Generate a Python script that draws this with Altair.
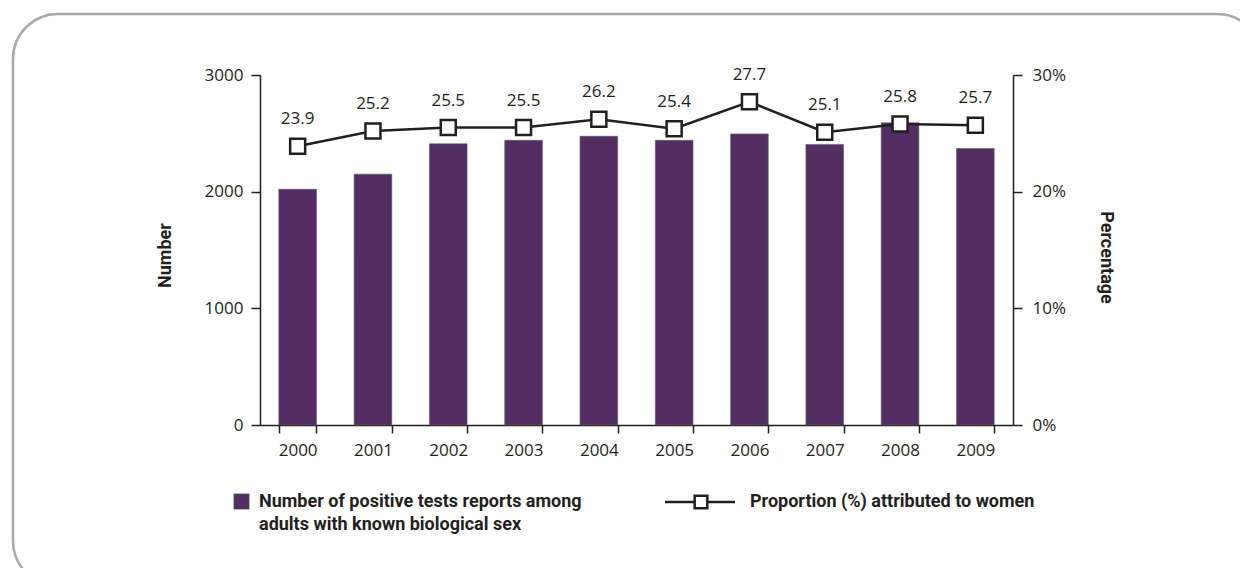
import altair as alt
import pandas as pd

years = ["2000", "2001", "2002", "2003", "2004", "2005", "2006", "2007", "2008", "2009"]
counts = [2020, 2150, 2410, 2440, 2475, 2440, 2495, 2405, 2590, 2370]
pct = [23.9, 25.2, 25.5, 25.5, 26.2, 25.4, 27.7, 25.1, 25.8, 25.7]
left_ticks = [0, 1000, 2000, 3000]
right_ticks = [0, 10, 20, 30]
legend_bar = ["Number of positive tests reports among", "adults with known biological sex"]
legend_line = "Proportion (%) attributed to women"

df = pd.DataFrame({"year": years, "count": counts, "pct": pct})
df["label"] = [f"{v:.1f}" for v in pct]

W, H = 753, 350
INK = "#231f20"
BAR = "#532e63"
FONT = "Open Sans"
BFONT = "Roboto"

xenc = alt.X("year:N", sort=years, title=None,
             scale=alt.Scale(paddingInner=0.5, paddingOuter=0.25),
             axis=alt.Axis(labelAngle=0, tickBand="extent", tickSize=8, labelPadding=9,
                           domainColor=INK, tickColor=INK, domainWidth=1.5, tickWidth=1.5,
                           labelFont=FONT, labelFontSize=17, labelColor=INK))

base = alt.Chart(df)

bars = base.mark_bar(color=BAR, stroke="#5a5a5a", strokeWidth=0.6).encode(
    x=xenc,
    y=alt.Y("count:Q", scale=alt.Scale(domain=[0, 3000]),
            axis=alt.Axis(orient="left", values=left_ticks, format="d", title="Number",
                          tickSize=9, labelPadding=8, domainColor=INK, tickColor=INK,
                          domainWidth=1.5, tickWidth=1.5, labelFont=FONT, labelFontSize=17,
                          labelColor=INK, titleFont=BFONT, titleFontSize=18, titleFontWeight="bold",
                          titleColor=INK, titleAngle=-90, titleX=-95, titleY=180,
                          titleAlign="center", titleBaseline="middle"))
)

right_axis = alt.Axis(orient="right", values=right_ticks, labelExpr="datum.value + '%'",
                      title="Percentage", tickSize=9, labelPadding=10, domainColor=INK,
                      tickColor=INK, domainWidth=1.5, tickWidth=1.5, labelFont=FONT,
                      labelFontSize=17, labelColor=INK, titleFont=BFONT, titleFontSize=18,
                      titleFontWeight="bold", titleColor=INK, titleAngle=90, titleX=92,
                      titleY=182, titleAlign="center", titleBaseline="middle")
yq = alt.Y("pct:Q", scale=alt.Scale(domain=[0, 30]), axis=right_axis)

line = base.mark_line(color=INK, strokeWidth=2.5).encode(x=xenc, y=yq)
points = base.mark_point(shape="square", size=225, filled=True, fill="white",
                         stroke=INK, strokeWidth=2.5, opacity=1).encode(x=xenc, y=yq)
labels = base.mark_text(dy=-27, font=FONT, fontSize=17, color=INK, baseline="middle").encode(
    x=xenc, y=yq, text="label:N")

right_layer = alt.layer(line, points, labels)

deco = alt.Chart(pd.DataFrame({"k": [0]}))
border = deco.mark_rect(filled=False, stroke="#a7a9ac", strokeWidth=2.5, cornerRadius=45).encode(
    x=alt.value(-247), x2=alt.value(1002), y=alt.value(-61), y2=alt.value(511))

leg_sq = deco.mark_rect(color=BAR, stroke="#444", strokeWidth=0.8).encode(
    x=alt.value(-26), x2=alt.value(-11), y=alt.value(419), y2=alt.value(434))
leg_t1 = deco.mark_text(text=legend_bar[0], font=BFONT, fontSize=18, fontWeight="bold",
                        color=INK, align="left", baseline="middle").encode(
    x=alt.value(-1), y=alt.value(427))
leg_t2 = deco.mark_text(text=legend_bar[1], font=BFONT, fontSize=18, fontWeight="bold",
                        color=INK, align="left", baseline="middle").encode(
    x=alt.value(-1), y=alt.value(450))
leg_ln = deco.mark_rule(color=INK, strokeWidth=2.5).encode(
    x=alt.value(405), x2=alt.value(475), y=alt.value(427))
leg_pt = deco.mark_point(shape="square", size=160, filled=True, fill="white", stroke=INK,
                         strokeWidth=2.5, opacity=1).encode(x=alt.value(441), y=alt.value(427))
leg_t3 = deco.mark_text(text=legend_line, font=BFONT, fontSize=18, fontWeight="bold",
                        color=INK, align="left", baseline="middle").encode(
    x=alt.value(490), y=alt.value(427))

chart = alt.layer(border, bars, right_layer, leg_sq, leg_t1, leg_t2, leg_ln, leg_pt, leg_t3).resolve_scale(
    y="independent"
).properties(
    width=W, height=H,
    autosize=alt.AutoSizeParams(type="none"),
    padding={"left": 252, "top": 67, "right": 227, "bottom": 143},
).configure_view(stroke=None).configure_axis(grid=False)

chart.save("out.html", embed_options={"renderer": "svg", "actions": False})
